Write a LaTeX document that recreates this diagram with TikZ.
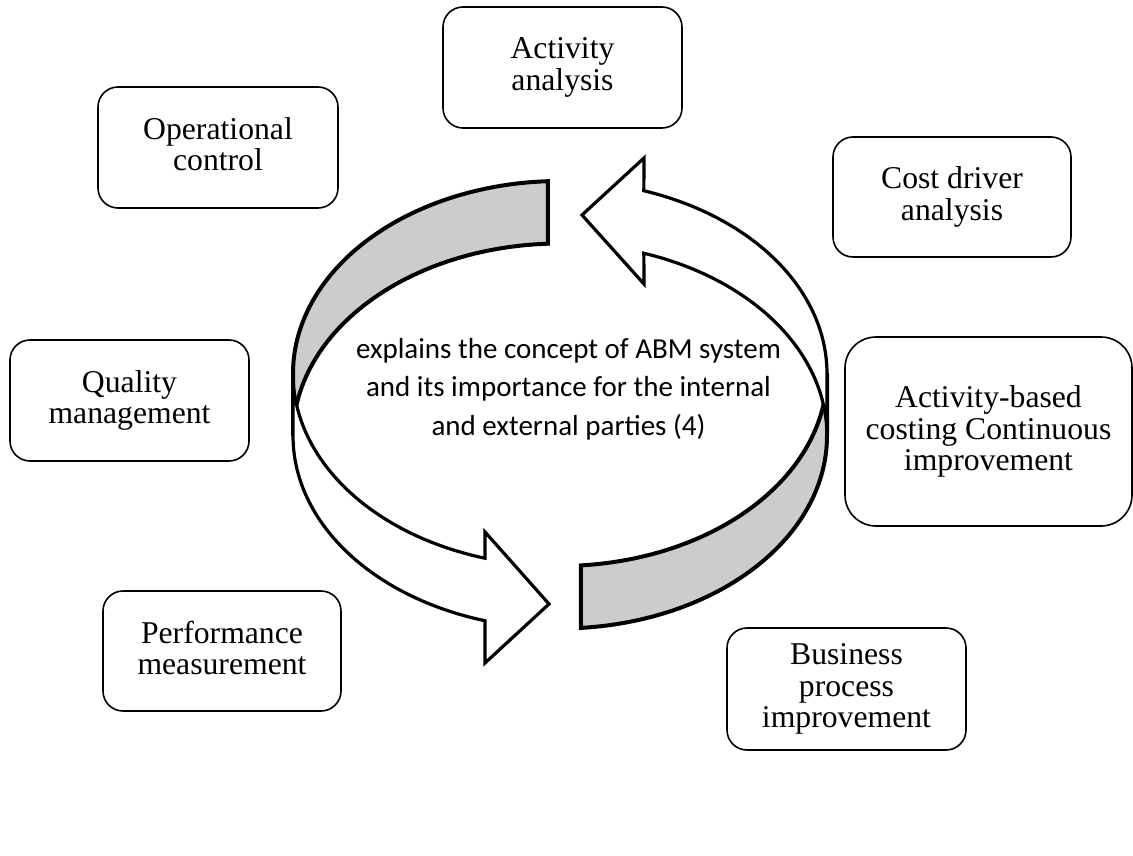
\documentclass[tikz,border=0pt]{standalone}
\usepackage{fontspec}
\setmainfont{Liberation Serif}
\newfontfamily\centrefont{Carlito}
\usetikzlibrary{positioning}

\begin{document}
\begin{tikzpicture}[x=1pt, y=-1pt,
    box/.style={draw, line width=1.6pt, rounded corners=20pt, align=center, inner sep=0pt,
        minimum width=239pt, minimum height=121pt, font=\fontsize{31.7}{31.5}\selectfont,
        execute at begin node=\rule{0pt}{28.2pt}, execute at end node=\rule[-6.8pt]{0pt}{6.8pt}},
    band/.style={draw, line width=4pt, fill=black!20},
    bigarrow/.style={draw, line width=3.2pt, fill=white}]
    \useasboundingbox (0,0) rectangle (1133,856);

    % Back part of the ring (grey)
    \draw[band] plot[domain=267.4:180, samples=60] ({560+267*cos(\x)}, {373.5+192.5*sin(\x)})
        -- plot[domain=180:267.4, samples=60] ({560+267*cos(\x)}, {436+192.5*sin(\x)}) -- cycle;
    \draw[band] plot[domain=85.5:0, samples=60] ({560+267*cos(\x)}, {373.5+192.5*sin(\x)})
        -- plot[domain=0:85.5, samples=60] ({560+267*cos(\x)}, {436+192.5*sin(\x)}) -- cycle;

    % Front part of the ring (white arrows)
    \draw[bigarrow] plot[domain=180:106.3, samples=60] ({560+267*cos(\x)}, {373.5+192.5*sin(\x)})
        -- (485,532) -- (549,604) -- (485,663)
        -- plot[domain=106.3:180, samples=60] ({560+267*cos(\x)}, {436+192.5*sin(\x)}) -- cycle;
    \draw[bigarrow] plot[domain=360:288.3, samples=60] ({560+267*cos(\x)}, {373.5+192.5*sin(\x)})
        -- (644,158) -- (582,215) -- (644,284)
        -- plot[domain=288.3:360, samples=60] ({560+267*cos(\x)}, {436+192.5*sin(\x)}) -- cycle;

    % Centre text
    \node[align=center, font=\centrefont\fontsize{29}{38.5}\selectfont] (abm) at (568.5,389)
        {explains the concept of ABM system\\and its importance for the internal\\and external parties (4)};

    % Surrounding boxes
    \node[box] (act) at (562.5,67.5) {Activity\\analysis};
    \node[box, minimum width=240pt] (opc) at (218,147.5) {Operational\\control};
    \node[box, minimum width=238pt, minimum height=120pt] (cda) at (952,197) {Cost driver\\analysis};
    \node[box] (qm) at (129.5,400.5) {Quality\\management};
    \node[box, minimum width=287pt, minimum height=189pt, rounded corners=31pt] (abc) at (988.5,431.5)
        {Activity-based\\costing Continuous\\improvement};
    \node[box, minimum width=238pt, minimum height=120pt] (pm) at (222,651) {Performance\\measurement};
    \node[box, minimum height=122pt] (bpi) at (846.5,689) {Business\\process\\improvement};
\end{tikzpicture}
\end{document}
